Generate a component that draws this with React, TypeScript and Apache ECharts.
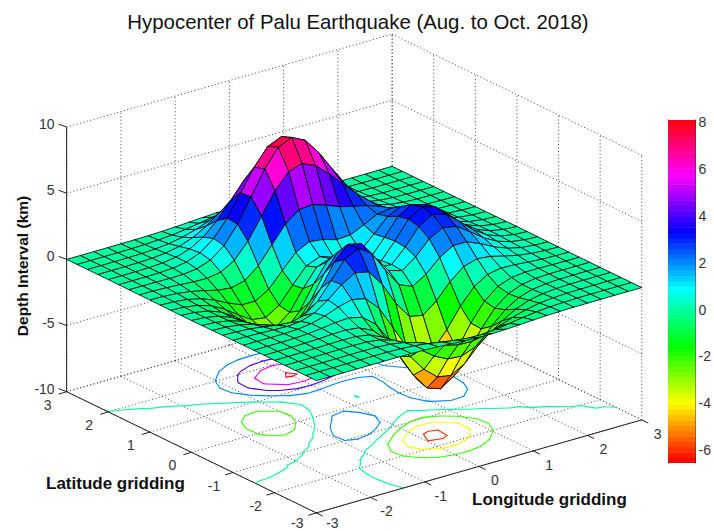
import React, { useEffect, useRef } from "react";
import * as echarts from "echarts";

const xGrid = [-3,-2.75,-2.5,-2.25,-2,-1.75,-1.5,-1.25,-1,-0.75,-0.5,-0.25,0,0.25,0.5,0.75,1,1.25,1.5,1.75,2,2.25,2.5,2.75,3];
const yGrid = xGrid;
// depth per row (latitude -3 .. 3), per column (longitude -3 .. 3)
const depth = [
[.0001,.0002,.0007,.0017,.0033,.005,.004,-.005,-.03,-.075,-.138,-.2,-.245,-.253,-.223,-.169,-.11,-.062,-.031,-.013,-.0043,-.0013,-.0003,-.0001,-.0001],
[.0002,.0005,.0015,.0038,.007,.01,.004,-.025,-.096,-.223,-.392,-.563,-.679,-.695,-.611,-.461,-.3,-.168,-.08,-.033,-.011,-.0034,-.0008,-.0001,-.0001],
[.0003,.001,.003,.008,.015,.019,.003,-.067,-.235,-.526,-.915,-1.307,-1.569,-1.605,-1.406,-1.06,-.688,-.384,-.184,-.075,-.026,-.007,-.0016,-.0002,-.0001],
[.0007,.002,.006,.014,.027,.036,.007,-.122,-.438,-.994,-1.744,-2.505,-3.022,-3.099,-2.72,-2.048,-1.324,-.734,-.348,-.139,-.047,-.012,-.002,-.0001,.0001],
[.0009,.003,.009,.023,.047,.07,.045,-.128,-.592,-1.447,-2.638,-3.883,-4.758,-4.929,-4.347,-3.272,-2.102,-1.148,-.529,-.202,-.062,-.013,-.001,.001,.0007],
[.0008,.003,.011,.03,.07,.127,.153,.022,-.462,-1.48,-3.007,-4.7,-5.977,-6.33,-5.641,-4.243,-2.688,-1.421,-.613,-.205,-.044,.001,.007,.004,.002],
[-.0002,.0003,.006,.026,.079,.186,.327,.393,.15,-.677,-2.184,-4.072,-5.677,-6.322,-5.758,-4.313,-2.633,-1.27,-.44,-.066,.043,.046,.026,.011,.004],
[-.003,-.008,-.014,-.011,.03,.167,.448,.835,1.105,.881,-.141,-1.848,-3.608,-4.605,-4.402,-3.225,-1.739,-.556,.079,.266,.226,.133,.061,.024,.008],
[-.009,-.024,-.056,-.103,-.131,-.042,.301,.983,1.856,2.453,2.224,.995,-.725,-2.017,-2.223,-1.426,-.273,.581,.883,.769,.5,.261,.113,.042,.013],
[-.017,-.049,-.122,-.255,-.424,-.51,-.28,.494,1.784,3.088,3.628,2.944,1.398,-.003,-.411,.205,1.176,1.787,1.778,1.347,.82,.415,.176,.064,.02],
[-.026,-.077,-.2,-.439,-.8,-1.158,-1.213,-.596,.798,2.489,3.551,3.304,1.997,.7,.39,1.139,2.198,2.759,2.559,1.875,1.122,.562,.237,.086,.027],
[-.033,-.101,-.267,-.602,-1.142,-1.775,-2.163,-1.836,-.564,1.229,2.561,2.625,1.585,.525,.476,1.496,2.756,3.372,3.088,2.247,1.339,.668,.282,.101,.032],
[-.037,-.113,-.301,-.689,-1.333,-2.143,-2.773,-2.712,-1.652,.064,1.48,1.753,.981,.19,.375,1.572,2.937,3.582,3.269,2.373,1.412,.704,.297,.107,.034],
[-.035,-.109,-.292,-.675,-1.319,-2.157,-2.873,-2.979,-2.148,-.647,.683,1.056,.522,-.028,.28,1.468,2.762,3.362,3.062,2.219,1.319,.657,.277,.1,.031],
[-.03,-.092,-.247,-.572,-1.124,-1.851,-2.492,-2.638,-1.996,-.76,.39,.796,.463,.089,.375,1.344,2.376,2.834,2.557,1.845,1.094,.544,.229,.082,.026],
[-.022,-.067,-.18,-.417,-.815,-1.331,-1.759,-1.781,-1.164,-.047,1.038,1.55,1.42,1.118,1.17,1.648,2.17,2.318,1.992,1.403,.821,.405,.17,.061,.019],
[-.014,-.042,-.112,-.254,-.481,-.741,-.864,-.6,.23,1.508,2.795,3.587,3.69,3.341,2.936,2.663,2.435,2.085,1.581,1.036,.58,.279,.115,.04,.013],
[-.008,-.022,-.056,-.118,-.197,-.225,-.047,.547,1.696,3.29,4.922,6.068,6.393,5.94,5.021,3.969,2.971,2.089,1.354,.791,.409,.186,.074,.025,.008],
[-.003,-.009,-.019,-.03,-.012,.109,.478,1.274,2.606,4.372,6.192,7.537,7.993,7.477,6.248,4.72,3.253,2.053,1.185,.622,.293,.123,.046,.015,.004],
[-.001,-.002,-.001,.013,.07,.241,.647,1.43,2.674,4.292,5.962,7.223,7.676,7.197,5.989,4.448,2.963,1.777,.961,.469,.206,.081,.028,.009,.002],
[-.0001,.001,.005,.023,.08,.228,.554,1.157,2.096,3.305,4.556,5.507,5.858,5.498,4.567,3.367,2.21,1.293,.677,.317,.133,.05,.016,.005,.001],
[.0002,.001,.005,.018,.057,.155,.363,.74,1.322,2.068,2.84,3.43,3.649,3.427,2.844,2.09,1.362,.788,.405,.186,.076,.027,.009,.003,.0006],
[.0001,.0007,.003,.011,.032,.083,.192,.388,.687,1.07,1.467,1.771,1.885,1.769,1.468,1.077,.699,.402,.205,.093,.037,.013,.004,.001,.0003],
[.0001,.0004,.002,.005,.015,.038,.086,.172,.301,.467,.638,.769,.819,.769,.638,.467,.303,.173,.088,.039,.016,.005,.002,.0005,.0001],
[.0001,.0002,.0006,.002,.005,.014,.032,.063,.11,.171,.234,.282,.3,.282,.234,.171,.11,.063,.032,.014,.005,.002,.0006,.0002,.0001],
];
const horizontalTicks = [-3,-2,-1,0,1,2,3];
const depthTicks = [-10,-5,0,5,10];
const contourLevels = [-6,-4,-2,0,2,4,6,7.8];
const colorbarTicks = [-6,-4,-2,0,2,4,6,8];
const colorMin = -6.55;
const colorMax = 8.1;
const FONT = "Liberation Sans, Arial, sans-serif";

// orthographic view of the box
const O = [354.2, 273.5];
const EX = [54.25, -15.5];
const EY = [-41.6, -20.2];
const EZ = -13.23;
const project = (x: number, y: number, z: number): number[] => [
  O[0] + x * EX[0] + y * EY[0],
  O[1] + x * EX[1] + y * EY[1] + z * EZ,
];

function hsv(t: number): string {
  const h = ((t % 1) + 1) % 1;
  const k = h * 6;
  const f = (n: number) => {
    const c = (n + k) % 6;
    return Math.round(255 * (1 - Math.max(0, Math.min(c, 4 - c, 1))));
  };
  return `rgb(${f(5)},${f(3)},${f(1)})`;
}
function colorOf(v: number): string {
  const t = Math.max(0, Math.min(0.9999, (v - colorMin) / (colorMax - colorMin)));
  const band = Math.floor(t * 64);
  return hsv(band / 64);
}

type Quad = { pts: number[][]; v: number };
const quads: Quad[] = [];
for (let j = yGrid.length - 2; j >= 0; j--) {
  for (let i = xGrid.length - 2; i >= 0; i--) {
    const a = depth[j][i], b = depth[j][i + 1], c = depth[j + 1][i + 1], d = depth[j + 1][i];
    quads.push({
      pts: [project(xGrid[i], yGrid[j], a), project(xGrid[i + 1], yGrid[j], b), project(xGrid[i + 1], yGrid[j + 1], c), project(xGrid[i], yGrid[j + 1], d)],
      v: (a + b + c + d) / 4,
    });
  }
}

// contour segments derived from the depth table by marching squares
type Seg = { p: number[]; q: number[]; level: number };
const segs: Seg[] = [];
contourLevels.forEach((level) => {
  for (let j = 0; j < yGrid.length - 1; j++) {
    for (let i = 0; i < xGrid.length - 1; i++) {
      const cs = [
        [xGrid[i], yGrid[j], depth[j][i]],
        [xGrid[i + 1], yGrid[j], depth[j][i + 1]],
        [xGrid[i + 1], yGrid[j + 1], depth[j + 1][i + 1]],
        [xGrid[i], yGrid[j + 1], depth[j + 1][i]],
      ];
      const hits: number[][] = [];
      for (let k = 0; k < 4; k++) {
        const A = cs[k], B = cs[(k + 1) % 4];
        if ((A[2] >= level) !== (B[2] >= level)) {
          const t = (level - A[2]) / (B[2] - A[2]);
          hits.push(project(A[0] + t * (B[0] - A[0]), A[1] + t * (B[1] - A[1]), -10));
        }
      }
      if (hits.length === 2) segs.push({ p: hits[0], q: hits[1], level });
      if (hits.length === 4) {
        segs.push({ p: hits[0], q: hits[1], level });
        segs.push({ p: hits[2], q: hits[3], level });
      }
    }
  }
});

// dotted box grid
type L = { p: number[]; q: number[] };
const dotted: L[] = [];
horizontalTicks.forEach((t) => {
  dotted.push({ p: project(t, -3, -10), q: project(t, 3, -10) });
  dotted.push({ p: project(-3, t, -10), q: project(3, t, -10) });
  dotted.push({ p: project(t, 3, -10), q: project(t, 3, 10) });
  dotted.push({ p: project(3, t, -10), q: project(3, t, 10) });
});
depthTicks.forEach((z) => {
  dotted.push({ p: project(-3, 3, z), q: project(3, 3, z) });
  dotted.push({ p: project(3, 3, z), q: project(3, -3, z) });
});

const solid: L[] = [
  { p: project(-3, 3, -10), q: project(-3, 3, 10) },
  { p: project(-3, 3, -10), q: project(-3, -3, -10) },
  { p: project(-3, -3, -10), q: project(3, -3, -10) },
];
horizontalTicks.forEach((t) => {
  const a = project(t, -3, -10);
  solid.push({ p: a, q: [a[0] + 6.5, a[1] + 3.2] });
  const b = project(-3, t, -10);
  solid.push({ p: b, q: [b[0] - 8, b[1] + 2.4] });
});
depthTicks.forEach((z) => {
  const a = project(-3, 3, z);
  solid.push({ p: a, q: [a[0] - 8, a[1] - 3] });
});

type T = { p: number[]; text: string; align: string };
const labels: T[] = [];
horizontalTicks.forEach((t) => {
  const a = project(t, -3, -10);
  labels.push({ p: [a[0] + 16, Math.min(a[1] + 14, 523)], text: String(t), align: "center" });
  const b = project(-3, t, -10);
  labels.push({ p: [b[0] - 19, Math.min(b[1] + 13, 523)], text: String(t), align: "center" });
});
depthTicks.forEach((z) => {
  const a = project(-3, 3, z);
  labels.push({ p: [a[0] - 12, a[1] - 3], text: String(z), align: "right" });
});

const bands = Array.from({ length: 64 }, (_, k) => k);

function lineSeries(list: L[], stroke: string, width: number, dash: number[] | null, z: number) {
  return {
    type: "custom", xAxisIndex: 0, yAxisIndex: 0, clip: false, silent: true, z,
    data: list.map((_, k) => [k]),
    renderItem: (params: any, api: any) => {
      const l = list[params.dataIndex];
      const a = api.coord(l.p), b = api.coord(l.q);
      return { type: "line", shape: { x1: a[0], y1: a[1], x2: b[0], y2: b[1] }, style: { stroke, lineWidth: width, lineDash: dash || undefined, fill: null } };
    },
  };
}

export default function App() {
  const ref = useRef<HTMLDivElement>(null);
  useEffect(() => {
    document.body.style.margin = "0";
    document.body.style.background = "#fff";
    const chart = echarts.init(ref.current!, undefined, { renderer: "svg" });
    chart.setOption({
      animation: false,
      backgroundColor: "#fff",
      title: {
        text: "Hypocenter of Palu Earthquake (Aug. to Oct. 2018)",
        left: 353, top: 7, textAlign: "center",
        textStyle: { fontFamily: FONT, fontSize: 20.4, fontWeight: "normal", color: "#111" },
      },
      grid: [
        { left: 0, top: 0, width: 714, height: 531, show: false },
        { left: 668, top: 120, width: 29, height: 343, show: false, z: 5 },
      ],
      xAxis: [
        { gridIndex: 0, type: "value", min: 0, max: 714, show: false },
        { gridIndex: 1, type: "value", min: 0, max: 1, show: false },
      ],
      yAxis: [
        { gridIndex: 0, type: "value", min: 0, max: 531, inverse: true, show: false },
        {
          gridIndex: 1, type: "value", min: colorMin, max: colorMax, position: "left", splitLine: { show: false },
          axisLine: { show: true, lineStyle: { color: "#333" } },
          axisTick: { show: true, inside: true, length: 3, customValues: colorbarTicks, lineStyle: { color: "#222" } },
          axisLabel: { show: false },
        },
        {
          gridIndex: 1, type: "value", min: colorMin, max: colorMax, position: "right", splitLine: { show: false },
          axisLine: { show: true, lineStyle: { color: "#333" } },
          axisTick: { show: true, inside: true, length: 3, customValues: colorbarTicks, lineStyle: { color: "#222" } },
          axisLabel: { show: true, customValues: colorbarTicks, margin: 3, fontFamily: FONT, fontSize: 14, color: "#333", formatter: (v: number) => String(v) },
        },
      ],
      graphic: [
        { type: "text", x: 46, y: 475, style: { text: "Latitude gridding", font: `bold 17px ${FONT}`, fill: "#111" } },
        { type: "text", x: 472, y: 491, style: { text: "Longitude gridding", font: `bold 17px ${FONT}`, fill: "#111" } },
        { type: "text", x: 22, y: 266, rotation: Math.PI / 2, style: { text: "Depth Interval (km)", font: `bold 15.5px ${FONT}`, fill: "#111", align: "center", verticalAlign: "middle" } },
      ],
      series: [
        lineSeries(dotted, "#444", 1, [1, 2.5], 1),
        {
          type: "custom", xAxisIndex: 0, yAxisIndex: 0, clip: false, silent: true, z: 2,
          data: segs.map((_, k) => [k]),
          renderItem: (params: any, api: any) => {
            const s = segs[params.dataIndex];
            const a = api.coord(s.p), b = api.coord(s.q);
            return { type: "line", shape: { x1: a[0], y1: a[1], x2: b[0], y2: b[1] }, style: { stroke: colorOf(s.level), lineWidth: 1.1, lineCap: "round", fill: null } };
          },
        },
        {
          type: "custom", xAxisIndex: 0, yAxisIndex: 0, clip: false, silent: true, z: 3,
          data: quads.map((_, k) => [k]),
          renderItem: (params: any, api: any) => {
            const q = quads[params.dataIndex];
            return { type: "polygon", shape: { points: q.pts.map((p) => api.coord(p)) }, style: { fill: colorOf(q.v), stroke: "#000", lineWidth: 0.8, lineJoin: "round" } };
          },
        },
        lineSeries(solid, "#222", 1, null, 4),
        {
          type: "custom", xAxisIndex: 0, yAxisIndex: 0, clip: false, silent: true, z: 4,
          data: labels.map((_, k) => [k]),
          renderItem: (params: any, api: any) => {
            const t = labels[params.dataIndex];
            const a = api.coord(t.p);
            return { type: "text", x: a[0], y: a[1], style: { text: t.text, fill: "#333", font: `14px ${FONT}`, align: t.align, verticalAlign: "middle" } };
          },
        },
        {
          type: "custom", xAxisIndex: 1, yAxisIndex: 1, clip: true, silent: true, z: 1,
          data: bands.map((b) => [b]),
          renderItem: (params: any, api: any) => {
            const b = bands[params.dataIndex];
            const lo = colorMin + (b / 64) * (colorMax - colorMin);
            const hi = colorMin + ((b + 1) / 64) * (colorMax - colorMin);
            const p0 = api.coord([0, hi]), p1 = api.coord([1, lo]);
            return { type: "rect", shape: { x: p0[0], y: p0[1], width: p1[0] - p0[0], height: p1[1] - p0[1] + 0.5 }, style: { fill: hsv(b / 64) } };
          },
        },
      ],
    });
    return () => chart.dispose();
  }, []);
  return <div ref={ref} style={{ width: 714, height: 531, position: "absolute", left: 0, top: 0 }} />;
}
